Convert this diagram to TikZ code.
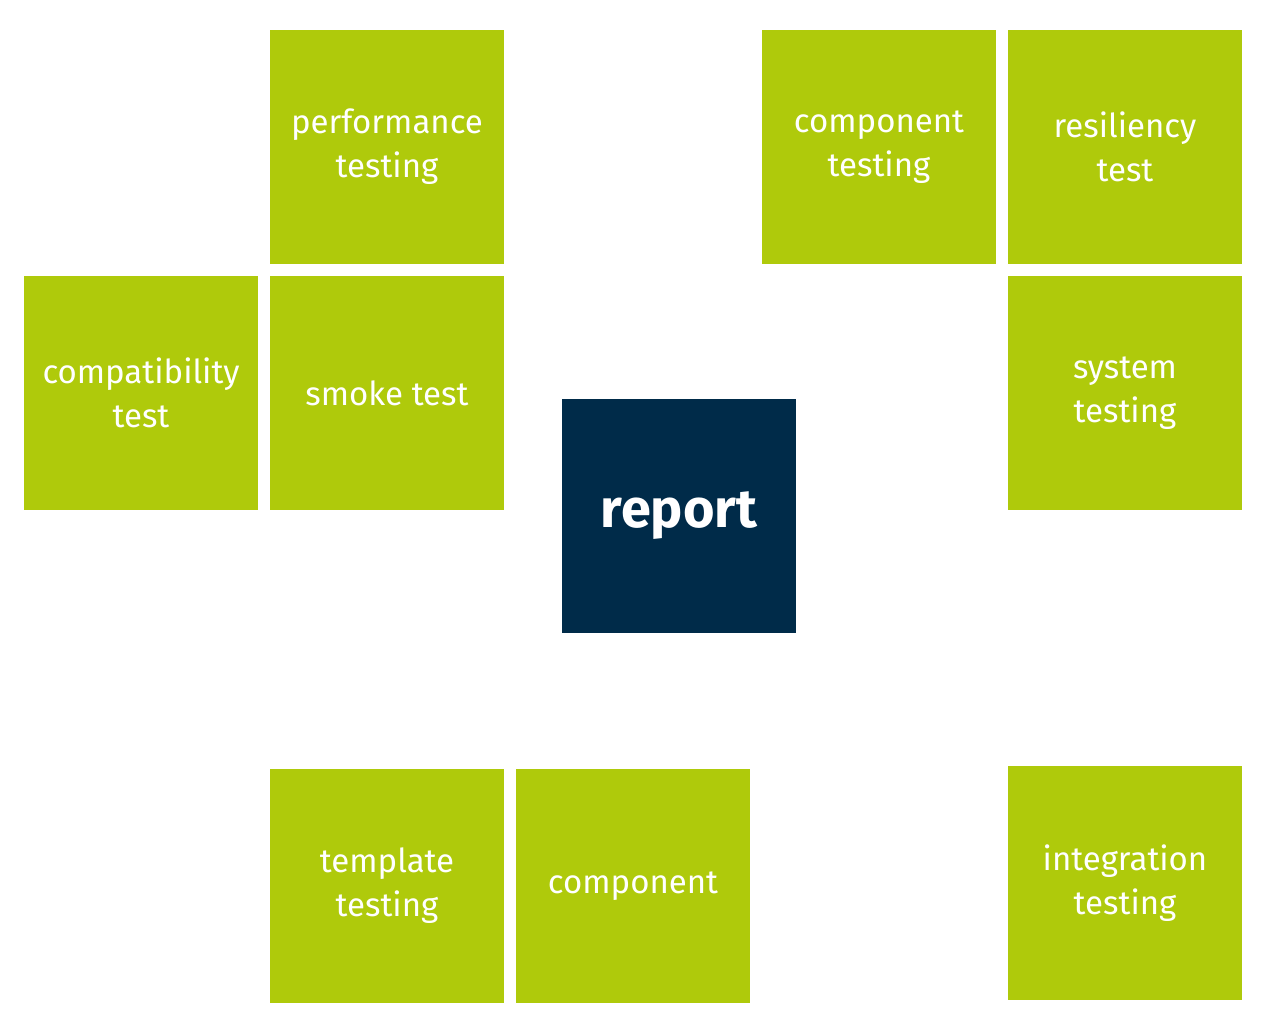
\documentclass[tikz,border=0pt]{standalone}
\usepackage{fontspec}
\setmainfont{Fira Sans}
\usetikzlibrary{positioning}
\definecolor{testgreen}{HTML}{AFCA0B}
\definecolor{reportblue}{HTML}{002B49}
\tikzset{
  tile/.style={rectangle, fill=testgreen, text=white, minimum size=234pt,
    inner sep=0pt, align=center, font=\fontsize{33}{44}\selectfont},
  hub/.style={tile, fill=reportblue, font=\fontsize{54}{60}\selectfont\bfseries}
}
\begin{document}
\begin{tikzpicture}[x=1pt,y=-1pt]
\useasboundingbox (0,0) rectangle (1266,1028);
\node[tile] (perf) at (387,147) {performance\\testing};
\node[tile] (comptest) at (879,147) {component\\testing};
\node[tile] (resil) at (1125,147) {resiliency\\test};
\node[tile] (compat) at (141,393) {compatibility\\test};
\node[tile] (smoke) at (387,393) {smoke test};
\node[tile] (system) at (1125,393) {system\\testing};
\node[hub] (report) at (679,516) {report};
\node[tile] (template) at (387,886) {template\\testing};
\node[tile] (component) at (633,886) {component};
\node[tile] (integr) at (1125,883) {integration\\testing};
\end{tikzpicture}
\end{document}
